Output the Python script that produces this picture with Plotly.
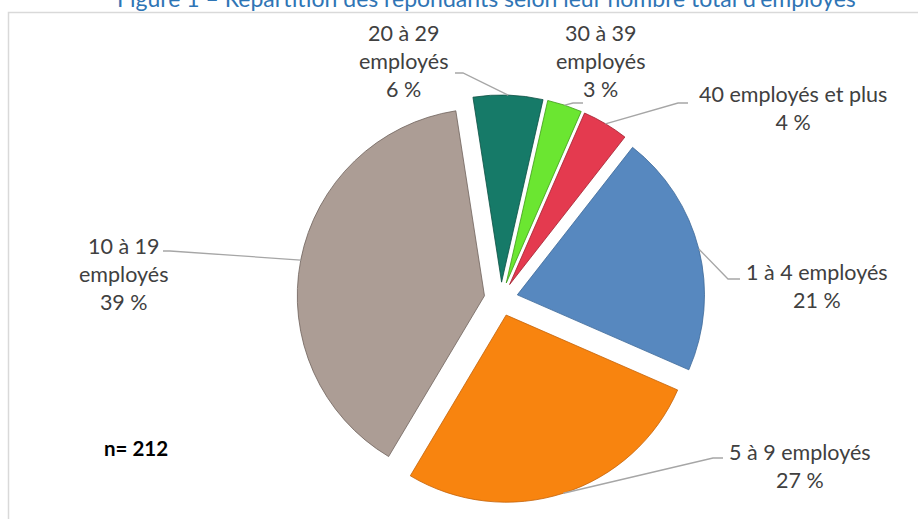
import math
import plotly.graph_objects as go

# ---- data ----
categories = ["1 à 4 employés", "5 à 9 employés", "10 à 19 employés",
              "20 à 29 employés", "30 à 39 employés", "40 employés et plus"]
values = [21, 27, 39, 6, 3, 4]
label_texts = ["1 à 4 employés<br>21 %", "5 à 9 employés<br>27 %",
               "10 à 19<br>employés<br>39 %", "20 à 29<br>employés<br>6 %",
               "30 à 39<br>employés<br>3 %", "40 employés et plus<br>4 %"]
colors = ["#5788BF", "#F8840F", "#AC9D95", "#167A68", "#6BE631", "#E43A4F"]
edge_colors = ["#3E6A99", "#C4630A", "#6F625C", "#0C4F43", "#3E9B16", "#A0202F"]
title_text = "Figure 1 – Répartition des répondants selon leur nombre total d’employés"
n_text = "n= 212"

W, H = 918, 519
PULL = 0.09
ROT = 38
dom_x = [0.3235, 0.7680]
dom_y = [0.0308, 0.8170]

fig = go.Figure(go.Pie(
    labels=categories, values=values, sort=False, direction="clockwise",
    rotation=ROT, pull=[PULL] * len(values), textinfo="none",
    hoverinfo="label+percent",
    marker=dict(colors=colors, line=dict(color=edge_colors, width=0.8)),
    domain=dict(x=dom_x, y=dom_y), showlegend=False,
))

# pie geometry (same as plotly's own scaling)
box = min((dom_x[1] - dom_x[0]) * W, (dom_y[1] - dom_y[0]) * H)
r = box / (2 + 2 * PULL)
cx = (dom_x[0] + dom_x[1]) / 2 * W
cy = (1 - (dom_y[0] + dom_y[1]) / 2) * H
total = sum(values)

def px2paper(x, y):
    return x / W, 1 - y / H

# label centres and leader-line start / elbow points (pixels)
label_pos = [(817, 286), (800, 466), (123, 274), (403, 61), (600, 61), (793, 108)]
leader_pts = [((740, 279), (728, 279)), ((723, 458), (713, 458)),
              ((163, 251), (170, 251)), ((455, 73), (463, 73)),
              ((583, 103), (573, 103)), ((688, 103), (678, 103))]

annotations = []
shapes = []
cum = 0
for i, v in enumerate(values):
    mid = math.radians(ROT + (cum + v / 2) * 360 / total)
    cum += v
    dx, dy = math.sin(mid), -math.cos(mid)
    hx = cx + (1 + PULL) * r * dx
    hy = cy + (1 + PULL) * r * dy
    (sx, sy), (ex, ey) = leader_pts[i]
    p = [px2paper(sx, sy), px2paper(ex, ey), px2paper(hx, hy)]
    shapes.append(dict(type="path", xref="paper", yref="paper",
                       path="M %f %f L %f %f L %f %f" % (p[0][0], p[0][1], p[1][0], p[1][1], p[2][0], p[2][1]),
                       line=dict(color="#A6A6A6", width=1.3)))
    lx, ly = px2paper(*label_pos[i])
    annotations.append(dict(x=lx, y=ly, xref="paper", yref="paper", text=label_texts[i],
                            showarrow=False, xanchor="center", yanchor="middle",
                            align="center", font=dict(family="Lato", size=21.5, color="#404040")))

annotations.append(dict(x=135.5 / W, y=1 - 448 / H, xref="paper", yref="paper",
                        text="<b>" + n_text + "</b>", showarrow=False,
                        xanchor="center", yanchor="middle",
                        font=dict(family="Lato", size=20.5, color="#000000")))
annotations.append(dict(x=487 / W, y=1 - 14 / H, xref="paper", yref="paper",
                        text=title_text, showarrow=False, xanchor="center", yanchor="bottom",
                        font=dict(family="Lato", size=23, color="#2F75B5")))

shapes.append(dict(type="rect", xref="paper", yref="paper",
                   x0=8.5 / W, x1=1.01, y0=-0.01, y1=1 - 12.5 / H,
                   line=dict(color="#D9D9D9", width=1.5), layer="below"))

fig.update_layout(width=W, height=H, margin=dict(l=0, r=0, t=0, b=0),
                  paper_bgcolor="white", plot_bgcolor="white",
                  annotations=annotations, shapes=shapes)
fig.write_html("out.html", config={"displayModeBar": False},
               post_script="document.body.style.margin='0px';")
